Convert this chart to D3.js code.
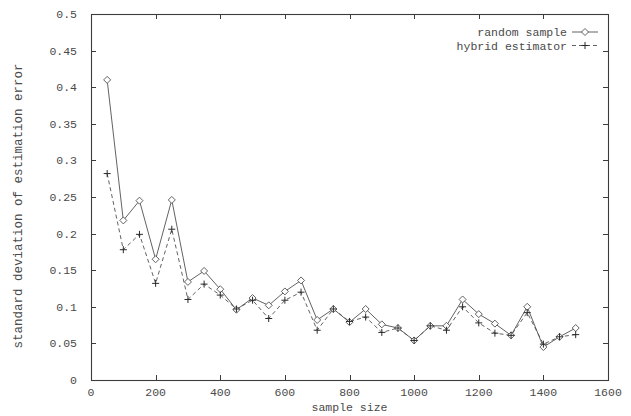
<!DOCTYPE html>
<html>
<head>
<meta charset="utf-8">
<script src="https://cdn.jsdelivr.net/npm/d3@7"></script>
<style>
  html, body { margin: 0; padding: 0; background: #fff; }
  svg { display: block; }
  text { font-family: "Liberation Mono", "DejaVu Sans Mono", monospace; fill: #4a4a4a; }
</style>
</head>
<body>
<svg id="chart" width="631" height="416"></svg>
<script>
// Sample sizes and the two error series
const sampleSizes = [50, 100, 150, 200, 250, 300, 350, 400, 450, 500,
  550, 600, 650, 700, 750, 800, 850, 900, 950, 1000,
  1050, 1100, 1150, 1200, 1250, 1300, 1350, 1400, 1450, 1500];
const randomSample = [0.410, 0.218, 0.245, 0.165, 0.246, 0.134, 0.149, 0.124, 0.096, 0.112,
  0.102, 0.121, 0.136, 0.082, 0.097, 0.079, 0.097, 0.076, 0.071, 0.054,
  0.074, 0.074, 0.110, 0.090, 0.077, 0.061, 0.100, 0.045, 0.059, 0.071];
const hybridEstimator = [0.282, 0.178, 0.199, 0.132, 0.206, 0.110, 0.131, 0.116, 0.097, 0.109,
  0.084, 0.109, 0.120, 0.068, 0.097, 0.080, 0.086, 0.065, 0.071, 0.054,
  0.074, 0.068, 0.100, 0.078, 0.064, 0.061, 0.092, 0.049, 0.059, 0.062];
const xTicks = [0, 200, 400, 600, 800, 1000, 1200, 1400, 1600];
const yTicks = [0, 0.05, 0.1, 0.15, 0.2, 0.25, 0.3, 0.35, 0.4, 0.45, 0.5];
const seriesNames = ["random sample", "hybrid estimator"];

const svg = d3.select("#chart");
const plotL = 91, plotR = 608, plotT = 14, plotB = 380;

const x = d3.scaleLinear().domain([0, 1600]).range([plotL, plotR]);
const y = d3.scaleLinear().domain([0, 0.5]).range([plotB, plotT]);

const ink = "#3c3c3c";
const tickLen = 5;

// Tick marks on all four sides, pointing inward
const g = svg.append("g").attr("stroke", ink).attr("stroke-width", 1);
xTicks.forEach(t => {
  const px = Math.round(x(t)) + 0.5;
  g.append("line").attr("x1", px).attr("x2", px).attr("y1", plotB).attr("y2", plotB - tickLen);
  g.append("line").attr("x1", px).attr("x2", px).attr("y1", plotT).attr("y2", plotT + tickLen);
});
yTicks.forEach(t => {
  const py = Math.round(y(t)) + 0.5;
  g.append("line").attr("x1", plotL).attr("x2", plotL + tickLen).attr("y1", py).attr("y2", py);
  g.append("line").attr("x1", plotR).attr("x2", plotR - tickLen).attr("y1", py).attr("y2", py);
});

// Plot frame
svg.append("rect")
  .attr("x", plotL + 0.5).attr("y", plotT + 0.5)
  .attr("width", plotR - plotL).attr("height", plotB - plotT)
  .attr("fill", "none").attr("stroke", ink).attr("stroke-width", 1.1);

// Tick labels
const fmtY = d => d === 0 ? "0" : String(+d.toFixed(2));
svg.append("g").selectAll("text").data(yTicks).join("text")
  .attr("x", plotL - 14).attr("y", d => y(d)).attr("dy", "0.35em")
  .attr("text-anchor", "end").attr("font-size", 11.5).text(fmtY);
svg.append("g").selectAll("text").data(xTicks).join("text")
  .attr("x", d => x(d)).attr("y", 396)
  .attr("text-anchor", "middle").attr("font-size", 11.5).text(d => d);

// Axis titles
svg.append("text")
  .attr("x", (plotL + plotR) / 2).attr("y", 411)
  .attr("text-anchor", "middle").attr("font-size", 11.5).text("sample size");
svg.append("text")
  .attr("transform", `translate(22,${206}) rotate(-90)`)
  .attr("text-anchor", "middle").attr("font-size", 12.5)
  .text("standard deviation of estimation error");

// Series
const line = d3.line().x(d => x(d[0])).y(d => y(d[1]));
const lineColor = "#505050";

function diamond(sel, cx, cy) {
  const r = 3.5;
  sel.append("path")
    .attr("d", `M${cx},${cy - r}L${cx + r},${cy}L${cx},${cy + r}L${cx - r},${cy}Z`)
    .attr("fill", "#fff").attr("stroke", lineColor).attr("stroke-width", 0.9);
}
function plus(sel, cx, cy) {
  const r = 3.5;
  sel.append("path")
    .attr("d", `M${cx - r},${cy}H${cx + r}M${cx},${cy - r}V${cy + r}`)
    .attr("fill", "none").attr("stroke", "#2a2a2a").attr("stroke-width", 1);
}

const hybridPts = sampleSizes.map((s, i) => [s, hybridEstimator[i]]);
const randomPts = sampleSizes.map((s, i) => [s, randomSample[i]]);

svg.append("path").datum(hybridPts).attr("d", line)
  .attr("fill", "none").attr("stroke", lineColor).attr("stroke-width", 0.9)
  .attr("stroke-dasharray", "4,3");
svg.append("path").datum(randomPts).attr("d", line)
  .attr("fill", "none").attr("stroke", lineColor).attr("stroke-width", 0.9);

const marks = svg.append("g");
randomPts.forEach(p => diamond(marks, x(p[0]), y(p[1])));
hybridPts.forEach(p => plus(marks, x(p[0]), y(p[1])));

// Legend
const legend = svg.append("g");
const legY = [32, 45.5];
seriesNames.forEach((name, i) => {
  legend.append("text").attr("x", 567).attr("y", legY[i]).attr("dy", "0.35em")
    .attr("text-anchor", "end").attr("font-size", 11.5).text(name);
  legend.append("line").attr("x1", 572).attr("x2", 598)
    .attr("y1", legY[i]).attr("y2", legY[i])
    .attr("stroke", lineColor).attr("stroke-width", 0.9)
    .attr("stroke-dasharray", i === 1 ? "4,3" : null);
  if (i === 0) diamond(legend, 585, legY[i]);
  else plus(legend, 585, legY[i]);
});
</script>
</body>
</html>
